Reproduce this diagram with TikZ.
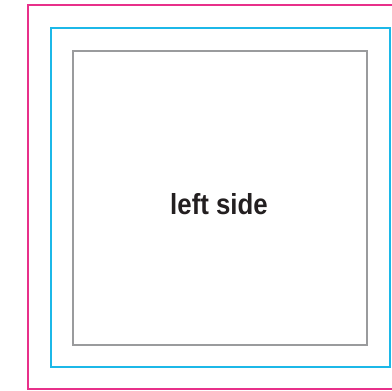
\documentclass[tikz,border=0pt]{standalone}
\usepackage{fontspec}
\setmainfont{Liberation Sans}
\definecolor{pinkline}{HTML}{E8308A}
\definecolor{cyanline}{HTML}{1CB8E8}
\definecolor{grayline}{HTML}{9A9B9D}
\definecolor{textdark}{HTML}{231F20}
\begin{document}
\begin{tikzpicture}[x=1pt,y=-1pt,
  frame/.style={line width=2pt},
  label/.style={font=\fontsize{29}{29}\selectfont\bfseries, text=textdark, inner sep=0pt, xscale=0.89}]
\useasboundingbox (0,0) rectangle (392,391);
\draw[frame, pinkline] (392,5) -- (28,5) -- (28,389) -- (392,389);
\draw[frame, cyanline] (50.5,28) rectangle (390,367);
\draw[frame, grayline] (73,50.5) rectangle (367,344.5);
\node[label, anchor=base] (lbl) at (219,214) {left side};
\end{tikzpicture}
\end{document}
